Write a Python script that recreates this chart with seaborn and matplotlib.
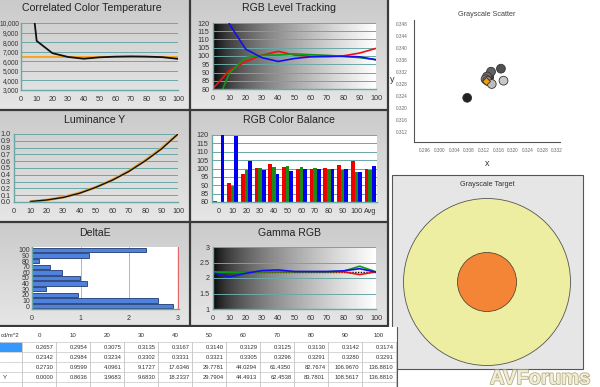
"""Calibration report dashboard: grayscale measurements for a display."""

import matplotlib.pyplot as plt
import matplotlib.patheffects as pe
import numpy as np
import pandas as pd
import seaborn as sns
from matplotlib.colors import LinearSegmentedColormap
from matplotlib.patches import Circle, Rectangle
from matplotlib.ticker import FuncFormatter

LEVELS = [0, 10, 20, 30, 40, 50, 60, 70, 80, 90, 100]
CCT = [22600, 8125, 6849, 6453, 6267, 6414, 6483, 6512, 6488, 6431, 6253]
CCT_TARGET = 6500
CHROMA_X = [0.2657, 0.2954, 0.3075, 0.3135, 0.3167, 0.3140, 0.3129, 0.3125, 0.3130, 0.3142, 0.3174]
CHROMA_Y = [0.2342, 0.2984, 0.3234, 0.3302, 0.3331, 0.3321, 0.3305, 0.3296, 0.3291, 0.3280, 0.3291]
LUM_MEASURED = [0.2730, 0.9599, 4.0961, 9.1727, 17.6346, 29.7781, 44.0294, 61.4350, 82.7674, 106.9670, 136.8810]
LUM_TARGET = [0.0000, 0.8636, 3.9683, 9.6830, 18.2337, 29.7904, 44.4913, 62.4538, 83.7801, 108.5617, 136.8810]
RED_LEVEL = [80.3, 91.2, 96.6, 100.5, 102.8, 100.6, 99.8, 99.6, 100.1, 101.8, 104.6]
GREEN_LEVEL = [66.0, 89.5, 99.0, 100.4, 100.6, 101.3, 100.8, 100.4, 99.8, 99.0, 97.8]
BLUE_LEVEL = [160.0, 119.5, 104.2, 99.0, 96.7, 98.5, 99.5, 99.8, 99.8, 99.5, 97.7]
RGB_AVG = [99.8, 99.0, 101.5]
GAMMA_RED = [2.20, 2.20, 2.19, 2.20, 2.20, 2.20, 2.20, 2.20, 2.20, 2.11, 2.20]
GAMMA_GREEN = [2.17, 2.18, 2.18, 2.20, 2.20, 2.20, 2.20, 2.20, 2.22, 2.38, 2.20]
GAMMA_BLUE = [2.17, 2.04, 2.15, 2.24, 2.26, 2.21, 2.21, 2.21, 2.23, 2.30, 2.19]
GAMMA_TARGET = 2.2
DELTA_E = [2.90, 2.60, 0.94, 0.28, 1.13, 0.98, 0.62, 0.38, 0.15, 1.18, 2.35]
POINT_GRAYS = ["#101010", "#181818", "#222222", "#3a3a3a", "#505050", "#626262",
               "#6e6e6e", "#7c7c7c", "#8c8c8c", "#bdbdbd", "#c9c9c9"]
WHITE_POINT = (0.3127, 0.3290)

W, H = 600, 387
TEAL = "#6aa8a8"
TXT = "#333333"

sns.set_theme(style="white")
plt.rcParams["font.family"] = ["Liberation Sans", "DejaVu Sans"]

fig = plt.figure(figsize=(W / 100, H / 100), dpi=100)
bg = fig.add_axes([0, 0, 1, 1])
bg.set_xlim(0, W)
bg.set_ylim(H, 0)
bg.axis("off")

panel_cmap = LinearSegmentedColormap.from_list("panel", ["#cbcbcb", "#e6e6e6"])
grad = np.linspace(0, 1, 64).reshape(-1, 1)
for x0, x1 in [(0, 190), (190, 388)]:
    for y0, y1 in [(0, 110), (110, 222), (222, 326)]:
        bg.imshow(grad, cmap=panel_cmap, extent=(x0, x1, y1, y0), aspect="auto", zorder=0)
for y in [110, 222, 326]:
    bg.plot([0, 388], [y, y], color="#3a3a3a", lw=1.6, zorder=2)
for x in [190, 388]:
    bg.plot([x, x], [0, 326], color="#3a3a3a", lw=1.6, zorder=2)

titles = [("Correlated Color Temperature", 92, 8), ("RGB Level Tracking", 289, 8),
          ("Luminance Y", 95, 120), ("RGB Color Balance", 289, 120),
          ("DeltaE", 95, 233), ("Gamma RGB", 289, 233)]
for text, x, y in titles:
    bg.text(x, y, text, ha="center", va="center", fontsize=7.6, color="#222222", zorder=3)


def px_axes(left, top, right, bottom):
    return fig.add_axes([left / W, 1 - bottom / H, (right - left) / W, (bottom - top) / H])


def style(ax, labelsize=5.2):
    ax.set_facecolor("none")
    for side in ["top", "right"]:
        ax.spines[side].set_visible(False)
    for side in ["left", "bottom"]:
        ax.spines[side].set_color(TEAL)
        ax.spines[side].set_linewidth(1.0)
    ax.tick_params(colors=TEAL, labelcolor=TXT, labelsize=labelsize, length=2.5,
                   width=0.8, direction="in", pad=2.5)
    ax.tick_params(axis="x", pad=4)
    ax.set_xlabel("")
    ax.set_ylabel("")


def hgrid(ax):
    ax.yaxis.grid(True, color=TEAL, lw=0.7)
    ax.xaxis.grid(False)
    ax.set_axisbelow(True)


def dark_gradient(ax, ylo, yhi):
    ramp = np.linspace(0, 1, 256) ** 0.6
    ax.imshow(ramp.reshape(1, -1), cmap="gray", vmin=0, vmax=1, extent=(0, 100, ylo, yhi),
              aspect="auto", zorder=0)


# Correlated colour temperature
ax = px_axes(21, 23, 178, 90)
sns.lineplot(x=LEVELS, y=[CCT_TARGET] * len(LEVELS), ax=ax, color="#f5a623", lw=1.4)
sns.lineplot(x=LEVELS, y=CCT, ax=ax, color="#111111", lw=1.3)
ax.set_xlim(0, 100)
ax.set_ylim(3000, 10000)
ax.set_xticks(LEVELS)
ax.set_yticks(range(3000, 10001, 1000))
ax.yaxis.set_major_formatter(FuncFormatter(lambda v, _: f"{int(v):,}"))
style(ax)
ax.tick_params(axis="y", labelsize=4.7, pad=1.2)
hgrid(ax)

# RGB level tracking
ax = px_axes(213, 23, 376, 89)
dark_gradient(ax, 80, 120)
sns.lineplot(x=LEVELS, y=RED_LEVEL, ax=ax, color="#ee1111", lw=1.2)
sns.lineplot(x=LEVELS, y=GREEN_LEVEL, ax=ax, color="#119911", lw=1.2)
sns.lineplot(x=LEVELS, y=BLUE_LEVEL, ax=ax, color="#1111ee", lw=1.2)
ax.set_xlim(0, 100)
ax.set_ylim(80, 120)
ax.set_xticks(LEVELS)
ax.set_yticks(range(80, 121, 5))
style(ax)
hgrid(ax)
ax.yaxis.grid(True, color=TEAL, lw=0.7, zorder=1)

# Luminance
ax = px_axes(14, 134, 178, 202)
peak = LUM_TARGET[-1]
sns.lineplot(x=LEVELS[1:], y=[v / peak for v in LUM_TARGET[1:]], ax=ax, color="#e8a640", lw=2.0)
sns.lineplot(x=LEVELS[1:], y=[v / peak for v in LUM_MEASURED[1:]], ax=ax, color="#111111", lw=1.0)
ax.set_xlim(0, 100)
ax.set_ylim(0, 1)
ax.set_xticks(LEVELS)
ax.set_yticks(np.arange(0, 1.01, 0.1))
ax.yaxis.set_major_formatter(FuncFormatter(lambda v, _: f"{v:.1f}"))
style(ax)
hgrid(ax)

# RGB colour balance
cats = [str(v) for v in LEVELS] + ["Avg"]
balance = pd.DataFrame({
    "level": cats * 3,
    "channel": ["R"] * 12 + ["G"] * 12 + ["B"] * 12,
    "value": RED_LEVEL + [RGB_AVG[0]] + GREEN_LEVEL + [RGB_AVG[1]] + BLUE_LEVEL + [RGB_AVG[2]],
})
ax = px_axes(212, 135, 377, 202)
ax.add_patch(Rectangle((0, 0), 1, 1, transform=ax.transAxes, fc="white", ec="none", zorder=0))
sns.barplot(data=balance, x="level", y="value", hue="channel", order=cats, ax=ax,
            palette={"R": "#ee0000", "G": "#1a8a1a", "B": "#0000ee"}, width=0.8,
            legend=False, saturation=1, edgecolor="none", linewidth=0)
ax.set_ylim(80, 120)
ax.set_yticks(range(80, 121, 5))
style(ax)
hgrid(ax)

# DeltaE
delta = pd.DataFrame({"level": [str(v) for v in LEVELS], "dE": DELTA_E})
ax = px_axes(32, 247, 179, 309)
ax.add_patch(Rectangle((0, 0), 1, 1, transform=ax.transAxes, fc="white", ec="none", zorder=0))
sns.barplot(data=delta, x="dE", y="level", order=[str(v) for v in LEVELS[::-1]], orient="h",
            ax=ax, color="#4f82dc", edgecolor="#1f3a70", linewidth=0.6, width=0.78, saturation=1)
ax.axvline(3, color="#e06a6a", lw=1.0)
ax.set_xlim(0, 3.03)
ax.set_xticks([0, 1, 2, 3])
style(ax, labelsize=5.0)
ax.tick_params(axis="y", pad=1.5)
ax.xaxis.grid(True, color="#9cc0c0", lw=0.7)
ax.set_axisbelow(True)

# Gamma
ax = px_axes(213, 247, 376, 309)
dark_gradient(ax, 1, 3)
sns.lineplot(x=LEVELS, y=[GAMMA_TARGET] * len(LEVELS), ax=ax, color="#111111", lw=1.0, linestyle=(0, (1, 1)))
sns.lineplot(x=LEVELS, y=GAMMA_RED, ax=ax, color="#ee1111", lw=1.2)
sns.lineplot(x=LEVELS, y=GAMMA_GREEN, ax=ax, color="#119911", lw=1.2)
sns.lineplot(x=LEVELS, y=GAMMA_BLUE, ax=ax, color="#1111ee", lw=1.2)
ax.set_xlim(0, 100)
ax.set_ylim(1, 3)
ax.set_xticks(LEVELS)
ax.set_yticks([1, 1.5, 2, 2.5, 3])
ax.yaxis.set_major_formatter(FuncFormatter(lambda v, _: f"{v:g}"))
style(ax)
hgrid(ax)

# Grayscale scatter
bg.add_patch(Rectangle((389, 0), 211, 175, fc="white", ec="none", zorder=1))
ax = px_axes(414, 20, 560, 142)
sns.scatterplot(x=CHROMA_X, y=CHROMA_Y, hue=LEVELS, palette=dict(zip(LEVELS, POINT_GRAYS)),
                s=40, edgecolor="#333333", linewidth=0.6, legend=False, ax=ax, zorder=3)
sns.scatterplot(x=[WHITE_POINT[0]], y=[WHITE_POINT[1]], color="#f5a000", marker="D", s=16,
                edgecolor="#333333", linewidth=0.6, ax=ax, zorder=4)
ax.set_xlim(0.293, 0.3328)
ax.set_ylim(0.3087, 0.3493)
ax.set_xticks(np.arange(0.296, 0.3321, 0.004))
ax.set_yticks(np.arange(0.312, 0.3481, 0.004))
ax.xaxis.set_major_formatter(FuncFormatter(lambda v, _: f"{v:.3f}"))
ax.yaxis.set_major_formatter(FuncFormatter(lambda v, _: f"{v:.3f}"))
ax.set_facecolor("none")
for side in ["top", "right"]:
    ax.spines[side].set_visible(False)
for side in ["left", "bottom"]:
    ax.spines[side].set_color("#555555")
    ax.spines[side].set_linewidth(0.8)
ax.tick_params(colors="#555555", labelcolor="#666666", labelsize=3.4, length=3,
               width=0.6, direction="inout", pad=3)
ax.set_xlabel("")
ax.set_ylabel("")
bg.text(487, 14, "Grayscale Scatter", ha="center", va="center", fontsize=5.2, color="#444444", zorder=3)
bg.text(487, 163, "x", ha="center", va="center", fontsize=6.5, color="#333333", zorder=3)
bg.text(392, 80, "y", ha="center", va="center", fontsize=6.5, color="#333333", zorder=3)

# Grayscale target
bg.add_patch(Rectangle((392, 175), 191, 194, fc="#e6e6e6", ec="#555555", lw=0.8, zorder=1))
bg.add_patch(Circle((487, 282), 83.5, fc="#eeeea2", ec="#555555", lw=0.6, zorder=2))
bg.add_patch(Circle((487, 282), 29.5, fc="#f58536", ec="#5a4a30", lw=0.6, zorder=2))
bg.text(487, 185, "Grayscale Target", ha="center", va="center", fontsize=5.2, color="#333333", zorder=3)

# Measurement table
col_left = 22
col_w = 34
rows = [CHROMA_X, CHROMA_Y, LUM_MEASURED, LUM_TARGET]
bg.add_patch(Rectangle((0, 326.8), 397, 61, fc="white", ec="none", zorder=3))
bg.add_patch(Rectangle((0, 342), col_left, 10, fc="#3399ff", ec="none", zorder=4))
for y in [342, 352, 362, 372, 382]:
    bg.plot([0, 397], [y, y], color="#d0d0d0", lw=0.6, zorder=4)
for j in range(len(LEVELS) + 1):
    x = col_left + j * col_w
    bg.plot([x, x], [342, 387], color="#c4c4c4", lw=0.6, zorder=4)
bg.plot([397, 397], [327, 387], color="#555555", lw=0.8, zorder=4)
bg.text(0.5, 335.5, "cd/m^2", ha="left", va="center", fontsize=4.2, color=TXT, zorder=5)
bg.text(3, 377.3, "Y", ha="left", va="center", fontsize=4.4, color=TXT, zorder=5)
for j, lvl in enumerate(LEVELS):
    x = col_left + j * col_w
    bg.text(x + col_w / 2, 335.5, str(lvl), ha="center", va="center", fontsize=4.4, color=TXT, zorder=5)
    for r, vals in enumerate(rows):
        bg.text(x + col_w - 2.5, 347.3 + 10 * r, f"{vals[j]:.4f}", ha="right", va="center",
                fontsize=4.2, color=TXT, zorder=5)

bg.text(540, 378.5, "AVForums", ha="center", va="center", fontsize=14.5, fontweight="bold",
        color="#f2eed6", zorder=6,
        path_effects=[pe.withStroke(linewidth=1.2, foreground="#b5ad88")])

fig.savefig("out.png", dpi=100)
